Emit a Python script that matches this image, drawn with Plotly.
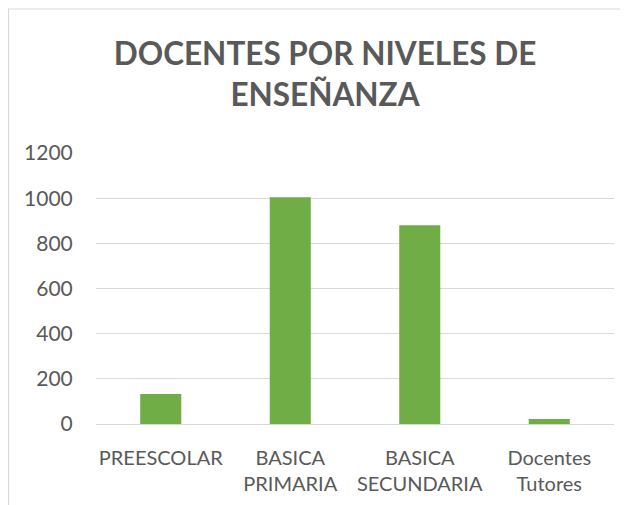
import plotly.graph_objects as go

title_text = "DOCENTES POR NIVELES DE<br>ENSEÑANZA"
categories = ["PREESCOLAR", "BASICA<br>PRIMARIA", "BASICA<br>SECUNDARIA", "Docentes<br>Tutores"]
values = [133, 1004, 880, 22]
y_ticks = [0, 200, 400, 600, 800, 1000, 1200]

GRAY_TEXT = "#595959"
GRID = "#D9D9D9"

fig = go.Figure(go.Bar(x=categories, y=values, marker=dict(color="#70AD47", line=dict(width=0)),
                       width=0.317))

fig.update_layout(
    width=628, height=505,
    margin=dict(l=88, r=22, t=145, b=89, autoexpand=False),
    plot_bgcolor="white", paper_bgcolor="white",
    showlegend=False,
    title=dict(text="<b>" + title_text + "</b>",
               x=0.5048, xanchor="center", xref="container",
               y=0.8873, yanchor="top", yref="container",
               font=dict(family="Lato", size=31.5, color=GRAY_TEXT)),
    font=dict(family="Lato", color=GRAY_TEXT),
    shapes=[dict(type="rect", xref="paper", yref="paper",
                 x0=-0.1689, x1=1.2, y0=-0.5, y1=1.5314,
                 line=dict(color=GRID, width=1.2), fillcolor="rgba(0,0,0,0)", layer="below")],
)
fig.update_yaxes(range=[0, 1200], tickvals=y_ticks, showgrid=True, gridcolor=GRID, gridwidth=1,
                 zeroline=True, zerolinecolor=GRID, zerolinewidth=1, showline=False,
                 ticks="outside", ticklen=18, tickcolor="rgba(0,0,0,0)", automargin=False,
                 tickfont=dict(family="Lato", size=21, color=GRAY_TEXT))
fig.update_xaxes(showline=False, ticks="outside", ticklen=16, tickcolor="rgba(0,0,0,0)",
                 automargin=False,
                 tickfont=dict(family="Lato", size=20, color=GRAY_TEXT))

fig.write_html("out.html")
